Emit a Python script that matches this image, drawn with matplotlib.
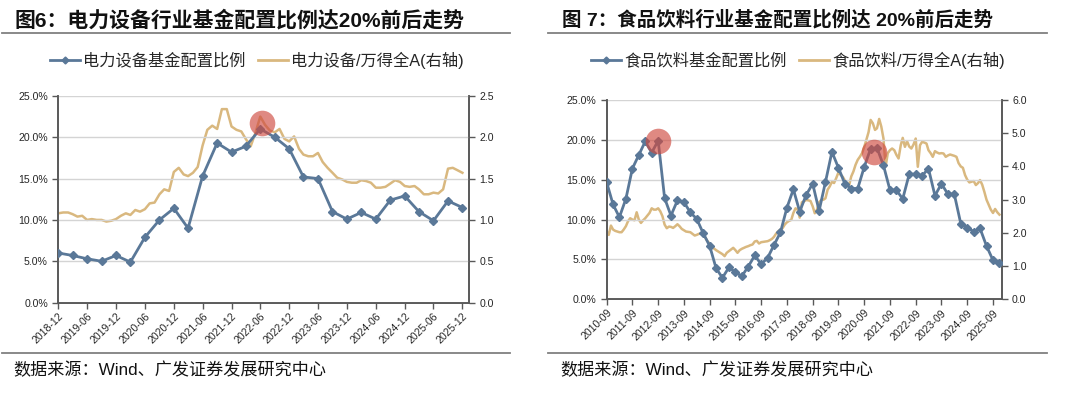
import pandas as pd
import matplotlib
matplotlib.use('Agg')
import matplotlib.pyplot as plt
from matplotlib.lines import Line2D
from matplotlib.ticker import FuncFormatter

plt.rcParams['font.family'] = ['Liberation Sans', 'Noto Sans CJK SC']

# 电力设备: quarterly fund allocation (%) 2018-12 .. 2025-12
power_alloc = [6.0, 5.7, 5.3, 5.0, 5.7, 4.9, 7.9, 10.0, 11.4, 9.0, 15.3, 19.3, 18.2,
               18.9, 21.0, 20.0, 18.6, 15.2, 15.0, 11.0, 10.1, 10.9, 10.1, 12.4, 12.9,
               11.0, 9.9, 12.3, 11.5]
# 电力设备/万得全A, monthly 2018-12 .. 2025-12
power_rel = [1.08, 1.09, 1.09, 1.07, 1.04, 1.05, 1.00, 1.01, 1.00, 1.00,
             0.98, 0.99, 1.01, 1.05, 1.08, 1.06, 1.12, 1.10, 1.13, 1.20,
             1.21, 1.31, 1.37, 1.35, 1.58, 1.63, 1.55, 1.53, 1.57, 1.64,
             1.90, 2.09, 2.14, 2.10, 2.34, 2.34, 2.13, 2.09, 2.07, 1.98,
             1.89, 2.05, 2.25, 2.15, 2.08, 2.06, 2.10, 1.98, 1.95, 2.01,
             1.86, 1.79, 1.77, 1.77, 1.81, 1.70, 1.63, 1.57, 1.51, 1.49,
             1.46, 1.45, 1.45, 1.48, 1.47, 1.45, 1.39, 1.39, 1.40, 1.44,
             1.48, 1.46, 1.41, 1.40, 1.41, 1.37, 1.31, 1.31, 1.33, 1.32,
             1.37, 1.62, 1.63, 1.60, 1.57]

# 食品饮料: quarterly fund allocation (%) 2010-09 .. 2025-12
food_alloc = [14.7, 11.9, 10.3, 12.6, 16.4, 18.1, 19.8, 18.4, 19.9, 12.7,
              10.5, 12.4, 12.2, 10.9, 10.1, 8.3, 6.7, 3.9, 2.7, 4.0,
              3.4, 2.9, 4.1, 5.5, 4.4, 5.2, 6.8, 8.4, 11.5, 13.8,
              11.0, 13.1, 14.5, 11.1, 14.7, 18.5, 16.5, 14.5, 13.9, 13.9,
              16.6, 18.9, 19.0, 16.8, 13.7, 13.7, 12.6, 15.7, 15.7, 15.5,
              16.4, 13.0, 14.5, 13.2, 13.2, 9.5, 9.0, 8.5, 8.9, 6.7,
              4.9, 4.5]
# 食品饮料/万得全A, monthly 2010-09 .. 2025-12
food_rel = [2.05, 1.94, 2.22, 2.10, 2.06, 2.04, 2.02, 2.02, 2.10, 2.20,
            2.35, 2.44, 2.40, 2.38, 2.62, 2.40, 2.30, 2.38, 2.44, 2.52,
            2.60, 2.74, 2.70, 2.70, 2.74, 2.65, 2.50, 2.25, 2.14, 2.19,
            2.18, 2.15, 2.20, 2.26, 2.20, 2.12, 2.08, 2.04, 2.03, 2.02,
            1.97, 1.92, 1.94, 1.97, 1.98, 1.95, 1.86, 1.75, 1.68, 1.60,
            1.53, 1.48, 1.44, 1.40, 1.36, 1.30, 1.40, 1.45, 1.50, 1.55,
            1.48, 1.40, 1.48, 1.52, 1.55, 1.58, 1.60, 1.63, 1.65, 1.74,
            1.76, 1.68, 1.72, 1.73, 1.74, 1.75, 1.78, 1.82, 1.88, 1.98,
            2.05, 2.10, 2.14, 2.25, 2.32, 2.36, 2.39, 2.60, 2.74, 2.70,
            2.46, 2.92, 2.95, 2.99, 2.98, 2.96, 2.80, 2.59, 2.70, 2.92,
            2.99, 3.00, 3.04, 3.30, 3.40, 3.54, 3.50, 3.65, 3.82, 3.75,
            3.69, 3.58, 3.49, 3.44, 3.70, 3.85, 4.05, 4.20, 4.29, 4.40,
            4.59, 4.80, 5.03, 5.40, 5.30, 5.10, 5.15, 5.43, 5.20, 4.84,
            3.99, 4.40, 4.49, 4.54, 4.49, 4.35, 4.24, 4.64, 4.86, 4.59,
            4.76, 4.60, 4.54, 4.66, 4.84, 3.99, 4.64, 4.74, 4.72, 4.69,
            4.49, 4.40, 4.29, 4.46, 4.42, 4.39, 4.40, 4.39, 4.29, 4.33,
            4.36, 4.34, 4.32, 4.29, 4.10, 4.00, 3.96, 3.74, 3.60, 3.52,
            3.54, 3.56, 3.44, 3.50, 3.59, 3.45, 3.24, 3.00, 2.85, 2.70,
            2.60, 2.72, 2.62, 2.55]

power_q = pd.date_range('2018-12-01', periods=len(power_alloc), freq='3MS')
power_m = pd.date_range('2018-12-01', periods=len(power_rel), freq='MS')
food_q = pd.date_range('2010-09-01', periods=len(food_alloc), freq='3MS')
food_m = pd.date_range('2010-09-01', periods=len(food_rel), freq='MS')

# highlighted points (date, %)
power_marks = [(pd.Timestamp('2022-06-15'), 21.7)]
food_marks = [(pd.Timestamp('2012-09-01'), 19.9), (pd.Timestamp('2021-01-15'), 18.5)]

BLUE = '#5a7898'
TAN = '#d9b87f'
GRID = '#d4d4d4'
SPINE = '#595959'
TXT = '#262626'


def draw_panel(ax, q, alloc, m, rel, rmax, ticks, xlim, marks):
    ax.plot(q, alloc, color=BLUE, lw=2.0, marker='D', ms=4, zorder=3)
    ax.set_ylim(0, 25)
    ax.set_yticks(range(0, 26, 5))
    ax.yaxis.set_major_formatter(FuncFormatter(lambda v, p: f'{v:.1f}%'))
    ax.grid(axis='y', color=GRID, lw=1.0)
    ax.set_axisbelow(True)
    ax.set_xlim(*xlim)
    ax.set_xticks(ticks)
    ax.set_xticklabels([t.strftime('%Y-%m') for t in ticks], rotation=45,
                       ha='right', rotation_mode='anchor')
    ax2 = ax.twinx()
    ax2.plot(m, rel, color=TAN, lw=1.8, zorder=2)
    ax2.set_ylim(0, rmax)
    ax2.yaxis.set_major_formatter(FuncFormatter(lambda v, p: f'{v:.1f}'))
    ax.set_zorder(ax2.get_zorder() + 1)
    ax.patch.set_visible(False)
    for a in (ax, ax2):
        a.spines['top'].set_visible(False)
        for s in ('left', 'right', 'bottom'):
            a.spines[s].set_color(SPINE)
            a.spines[s].set_linewidth(1.2)
        a.tick_params(labelsize=7.6, colors=TXT, length=4, width=1, direction='out')
        a.tick_params(axis='both', color=SPINE)
    ax.tick_params(axis='x', pad=2)
    for d, v in marks:
        ax.scatter([d], [v], s=340, color='#cf4a40', alpha=0.65, lw=0, zorder=5)
    h1 = Line2D([], [], color=BLUE, lw=2.0, marker='D', ms=3.5)
    h2 = Line2D([], [], color=TAN, lw=2.0)
    return ax2, [h1, h2]


fig = plt.figure(figsize=(10.8, 3.93), dpi=100)

axL = fig.add_axes([0.054, 0.230, 0.380, 0.526])
_, hL = draw_panel(axL, power_q, power_alloc, power_m, power_rel, 2.5,
                   pd.date_range('2018-12-01', '2025-12-01', freq='6MS'),
                   (pd.Timestamp('2018-12-01'), pd.Timestamp('2026-01-10')),
                   power_marks)
axL.legend(hL, ['电力设备基金配置比例', '电力设备/万得全A(右轴)'], ncol=2,
           frameon=False, fontsize=11.7, loc='center',
           bbox_to_anchor=(257 / 1080, 0.847), bbox_transform=fig.transFigure,
           handlelength=1.8, handletextpad=0.2, columnspacing=0.8,
           labelcolor=TXT)

axR = fig.add_axes([0.5617, 0.2384, 0.3657, 0.5071])
axR2, hR = draw_panel(axR, food_q, food_alloc, food_m, food_rel, 6.0,
                      pd.date_range('2010-09-01', '2025-09-01', freq='12MS'),
                      (pd.Timestamp('2010-09-01'), pd.Timestamp('2026-01-01')),
                      food_marks)
axR2.set_yticks(range(0, 7))
axR.legend(hR, ['食品饮料基金配置比例', '食品饮料/万得全A(右轴)'], ncol=2,
           frameon=False, fontsize=11.7, loc='center',
           bbox_to_anchor=(798 / 1080, 0.847), bbox_transform=fig.transFigure,
           handlelength=1.8, handletextpad=0.2, columnspacing=0.8,
           labelcolor=TXT)

# titles, rules and source notes
fig.text(14 / 1080, 0.949, '图6：电力设备行业基金配置比例达20%前后走势',
         fontsize=15, fontweight='bold', color='#111111', va='center')
fig.text(562 / 1080, 0.949, '图 7：食品饮料行业基金配置比例达 20%前后走势',
         fontsize=14, fontweight='bold', color='#111111', va='center')
for x0, x1 in ((2, 510), (548, 1047)):
    for y in (33, 353):
        fig.add_artist(Line2D([x0 / 1080, x1 / 1080], [1 - y / 393, 1 - y / 393],
                              transform=fig.transFigure, color='#808080', lw=1.3))
fig.text(13 / 1080, 1 - 370 / 393, '数据来源：Wind、广发证券发展研究中心',
         fontsize=12.3, color='#111111', va='center')
fig.text(560 / 1080, 1 - 370 / 393, '数据来源：Wind、广发证券发展研究中心',
         fontsize=12.3, color='#111111', va='center')

fig.savefig('out.png', dpi=100)
